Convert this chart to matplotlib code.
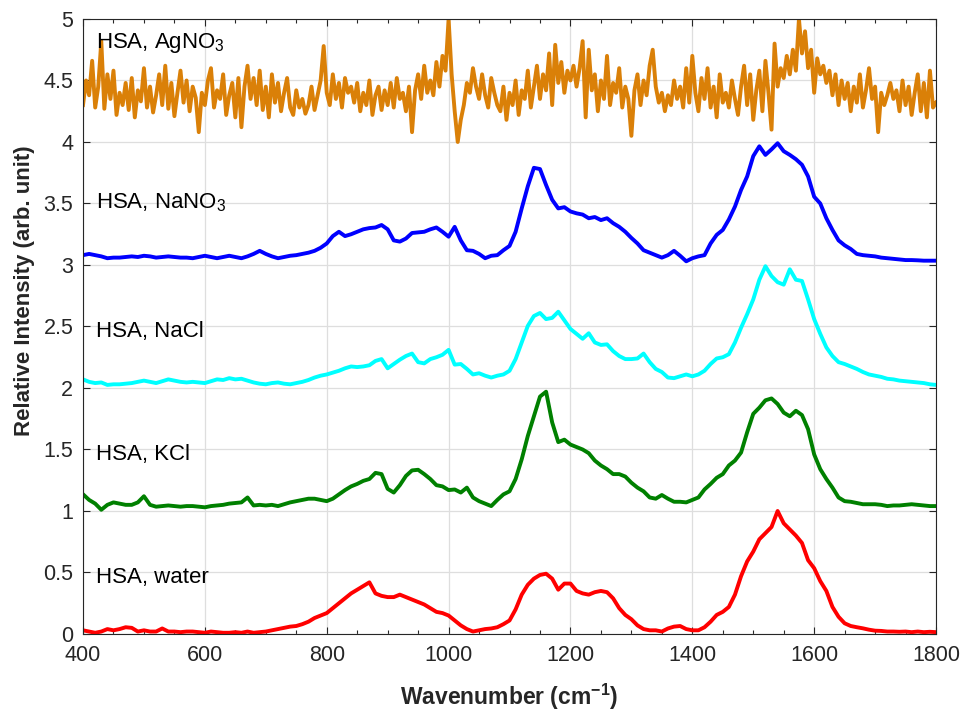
import numpy as np
import matplotlib
matplotlib.use("Agg")
import matplotlib.pyplot as plt
from matplotlib.ticker import MultipleLocator

plt.rcParams['font.family'] = ['Liberation Sans', 'DejaVu Sans']
plt.rcParams['mathtext.fontset'] = 'custom'
plt.rcParams['mathtext.rm'] = 'Liberation Sans'
plt.rcParams['mathtext.bf'] = 'Liberation Sans:bold'

# wavenumber grids
wn = np.arange(400, 1801, 10)
wn_ag = np.arange(400, 1801, 5)

water = [
    0.03, 0.02, 0.01, 0.02, 0.04, 0.03, 0.04, 0.055, 0.05, 0.02,
    0.03, 0.02, 0.02, 0.045, 0.02, 0.02, 0.015, 0.02, 0.02, 0.015,
    0.01, 0.02, 0.015, 0.01, 0.01, 0.015, 0.01, 0.02, 0.01, 0.015,
    0.02, 0.03, 0.04, 0.05, 0.06, 0.065, 0.08, 0.10, 0.13, 0.15,
    0.17, 0.21, 0.25, 0.29, 0.33, 0.36, 0.39, 0.42, 0.33, 0.31,
    0.30, 0.30, 0.32, 0.30, 0.28, 0.26, 0.24, 0.21, 0.18, 0.17,
    0.15, 0.11, 0.07, 0.04, 0.02, 0.03, 0.04, 0.045, 0.055, 0.08,
    0.11, 0.20, 0.32, 0.40, 0.45, 0.48, 0.49, 0.45, 0.36, 0.41,
    0.41, 0.35, 0.33, 0.32, 0.34, 0.35, 0.34, 0.29, 0.21, 0.155,
    0.12, 0.07, 0.04, 0.03, 0.03, 0.02, 0.045, 0.06, 0.065, 0.04,
    0.03, 0.03, 0.055, 0.10, 0.155, 0.18, 0.22, 0.32, 0.47, 0.59,
    0.67, 0.77, 0.82, 0.87, 1.00, 0.90, 0.85, 0.80, 0.74, 0.60,
    0.535, 0.43, 0.35, 0.22, 0.14, 0.087, 0.065, 0.055, 0.046, 0.035,
    0.027, 0.025, 0.02, 0.02, 0.018, 0.02, 0.015, 0.02, 0.015, 0.018,
    0.015]

kcl = [
    1.136, 1.09, 1.06, 1.01, 1.05, 1.07, 1.06, 1.05, 1.05, 1.07,
    1.12, 1.05, 1.035, 1.04, 1.045, 1.04, 1.035, 1.04, 1.04, 1.035,
    1.03, 1.04, 1.045, 1.05, 1.06, 1.065, 1.07, 1.11, 1.045, 1.05,
    1.045, 1.05, 1.04, 1.055, 1.07, 1.08, 1.09, 1.10, 1.10, 1.09,
    1.08, 1.10, 1.135, 1.17, 1.20, 1.22, 1.245, 1.26, 1.31, 1.30,
    1.18, 1.15, 1.21, 1.285, 1.33, 1.335, 1.30, 1.26, 1.21, 1.20,
    1.17, 1.175, 1.15, 1.19, 1.11, 1.08, 1.06, 1.04, 1.09, 1.135,
    1.16, 1.26, 1.42, 1.61, 1.77, 1.93, 1.97, 1.72, 1.56, 1.58,
    1.54, 1.52, 1.50, 1.47, 1.41, 1.37, 1.34, 1.30, 1.30, 1.28,
    1.23, 1.19, 1.16, 1.11, 1.10, 1.13, 1.10, 1.075, 1.075, 1.07,
    1.09, 1.11, 1.175, 1.22, 1.27, 1.30, 1.37, 1.41, 1.475, 1.64,
    1.79, 1.84, 1.90, 1.915, 1.87, 1.80, 1.77, 1.815, 1.78, 1.665,
    1.46, 1.34, 1.26, 1.19, 1.11, 1.08, 1.075, 1.065, 1.055, 1.055,
    1.055, 1.05, 1.04, 1.045, 1.045, 1.05, 1.055, 1.05, 1.045, 1.04,
    1.04]

nacl = [
    2.07, 2.05, 2.04, 2.045, 2.025, 2.03, 2.03, 2.035, 2.04, 2.05,
    2.06, 2.05, 2.04, 2.055, 2.07, 2.06, 2.05, 2.045, 2.05, 2.045,
    2.04, 2.055, 2.07, 2.065, 2.08, 2.07, 2.075, 2.06, 2.045, 2.035,
    2.03, 2.04, 2.045, 2.035, 2.03, 2.04, 2.05, 2.065, 2.085, 2.10,
    2.11, 2.125, 2.14, 2.16, 2.175, 2.17, 2.175, 2.185, 2.22, 2.235,
    2.16, 2.195, 2.23, 2.26, 2.28, 2.21, 2.20, 2.235, 2.25, 2.27,
    2.31, 2.19, 2.195, 2.155, 2.11, 2.12, 2.10, 2.085, 2.10, 2.11,
    2.14, 2.235, 2.37, 2.505, 2.585, 2.61, 2.56, 2.57, 2.62, 2.55,
    2.48, 2.44, 2.40, 2.445, 2.37, 2.35, 2.355, 2.30, 2.26, 2.235,
    2.235, 2.24, 2.28, 2.21, 2.155, 2.13, 2.085, 2.08, 2.095, 2.11,
    2.095, 2.11, 2.14, 2.195, 2.24, 2.25, 2.275, 2.37, 2.49, 2.60,
    2.72, 2.88, 2.99, 2.91, 2.86, 2.84, 2.965, 2.88, 2.87, 2.72,
    2.56, 2.44, 2.33, 2.26, 2.21, 2.195, 2.175, 2.155, 2.13, 2.11,
    2.10, 2.09, 2.075, 2.07, 2.06, 2.055, 2.05, 2.045, 2.04, 2.03,
    2.025]

nano3 = [
    3.08, 3.09, 3.08, 3.07, 3.055, 3.06, 3.06, 3.065, 3.07, 3.065,
    3.075, 3.07, 3.06, 3.065, 3.07, 3.065, 3.06, 3.06, 3.055, 3.065,
    3.075, 3.065, 3.055, 3.065, 3.075, 3.065, 3.055, 3.07, 3.09, 3.115,
    3.09, 3.07, 3.055, 3.065, 3.075, 3.08, 3.09, 3.10, 3.115, 3.14,
    3.175, 3.235, 3.27, 3.235, 3.25, 3.27, 3.29, 3.30, 3.305, 3.325,
    3.29, 3.20, 3.19, 3.215, 3.26, 3.265, 3.27, 3.29, 3.305, 3.27,
    3.23, 3.31, 3.20, 3.12, 3.115, 3.09, 3.055, 3.075, 3.08, 3.12,
    3.155, 3.27, 3.46, 3.64, 3.79, 3.78, 3.65, 3.53, 3.46, 3.47,
    3.435, 3.42, 3.41, 3.38, 3.39, 3.365, 3.38, 3.34, 3.31, 3.27,
    3.22, 3.175, 3.12, 3.10, 3.08, 3.06, 3.08, 3.115, 3.075, 3.03,
    3.055, 3.07, 3.08, 3.175, 3.245, 3.285, 3.37, 3.475, 3.61, 3.72,
    3.885, 3.965, 3.895, 3.94, 3.99, 3.925, 3.895, 3.86, 3.815, 3.72,
    3.555, 3.50, 3.38, 3.285, 3.20, 3.16, 3.13, 3.09, 3.08, 3.075,
    3.07, 3.06, 3.055, 3.05, 3.045, 3.04, 3.04, 3.038, 3.035, 3.035,
    3.035]

agno3 = [
    4.30, 4.50, 4.38, 4.66, 4.28, 4.45, 4.82, 4.27, 4.55, 4.35, 4.58, 4.22, 4.40, 4.30, 4.48, 4.26, 4.52, 4.20, 4.42, 4.33,
    4.60, 4.28, 4.45, 4.24, 4.38, 4.55, 4.30, 4.62, 4.27, 4.48, 4.21, 4.40, 4.58, 4.32, 4.50, 4.25, 4.45, 4.36, 4.08, 4.40,
    4.30, 4.50, 4.60, 4.28, 4.42, 4.35, 4.55, 4.22, 4.38, 4.48, 4.20, 4.52, 4.12, 4.45, 4.62, 4.35, 4.52, 4.30, 4.58, 4.26,
    4.45, 4.20, 4.55, 4.32, 4.48, 4.25, 4.40, 4.52, 4.28, 4.22, 4.42, 4.28, 4.35, 4.23, 4.30, 4.45, 4.26, 4.38, 4.50, 4.78,
    4.40, 4.30, 4.55, 4.35, 4.48, 4.28, 4.52, 4.40, 4.45, 4.32, 4.48, 4.25, 4.40, 4.30, 4.50, 4.22, 4.38, 4.45, 4.26, 4.42,
    4.30, 4.48, 4.28, 4.52, 4.35, 4.40, 4.25, 4.45, 4.08, 4.42, 4.55, 4.35, 4.62, 4.40, 4.50, 4.38, 4.65, 4.45, 4.70, 4.58,
    5.00, 4.55, 4.25, 4.00, 4.18, 4.30, 4.48, 4.40, 4.60, 4.45, 4.35, 4.55, 4.38, 4.28, 4.52, 4.40, 4.30, 4.25, 4.45, 4.18,
    4.40, 4.30, 4.50, 4.22, 4.42, 4.35, 4.58, 4.28, 4.45, 4.62, 4.35, 4.55, 4.42, 4.72, 4.30, 4.79, 4.48, 4.65, 4.40, 4.58,
    4.50, 4.62, 4.45, 4.60, 4.82, 4.20, 4.75, 4.42, 4.55, 4.25, 4.50, 4.35, 4.70, 4.30, 4.48, 4.40, 4.60, 4.28, 4.45, 4.35,
    4.05, 4.42, 4.55, 4.30, 4.50, 4.38, 4.62, 4.75, 4.45, 4.32, 4.40, 4.25, 4.38, 4.30, 4.50, 4.35, 4.45, 4.28, 4.60, 4.32,
    4.70, 4.40, 4.25, 4.52, 4.35, 4.60, 4.28, 4.45, 4.20, 4.55, 4.32, 4.40, 4.28, 4.50, 4.35, 4.22, 4.45, 4.62, 4.30, 4.55,
    4.18, 4.42, 4.58, 4.25, 4.66, 4.40, 4.10, 4.80, 4.45, 4.60, 4.52, 4.70, 4.55, 4.75, 4.58, 5.00, 4.72, 4.90, 4.60, 4.75,
    4.40, 4.68, 4.55, 4.62, 4.48, 4.58, 4.38, 4.55, 4.30, 4.50, 4.35, 4.48, 4.25, 4.45, 4.32, 4.55, 4.28, 4.42, 4.60, 4.35,
    4.45, 4.08, 4.40, 4.30, 4.38, 4.48, 4.35, 4.42, 4.25, 4.50, 4.30, 4.45, 4.22, 4.40, 4.55, 4.25, 4.48, 4.20, 4.58, 4.28,
    4.32]

labels = ["HSA, water", "HSA, KCl", "HSA, NaCl", "HSA, NaNO$_3$", "HSA, AgNO$_3$"]
label_y = [0.415, 1.415, 2.415, 3.463, 4.765]
colors = ["#FF0000", "#008000", "#00FFFF", "#0000FF", "#DA8008"]

fig = plt.figure(figsize=(9.63, 7.11), dpi=100)
ax = fig.add_axes([0.0862, 0.1083, 0.8858, 0.865])

series = [(wn, water), (wn, kcl), (wn, nacl), (wn, nano3), (wn_ag, agno3)]
for (x, y), c in zip(series, colors):
    ax.plot(x, y, color=c, lw=2.8, solid_joinstyle='round')

for lab, ly in zip(labels, label_y):
    ax.text(421, ly, lab, fontsize=16, va='baseline', ha='left', color='black')

ax.set_xlim(400, 1800)
ax.set_ylim(0, 5)
ax.xaxis.set_major_locator(MultipleLocator(200))
ax.xaxis.set_minor_locator(MultipleLocator(50))
ax.set_yticks(np.arange(0, 5.01, 0.5))
ax.set_yticklabels(["0", "0.5", "1", "1.5", "2", "2.5", "3", "3.5", "4", "4.5", "5"])
ax.grid(True, which='major', color='#DEDEDE', lw=0.9)
ax.set_axisbelow(True)
ax.tick_params(which='both', direction='in', top=True, right=True, labelsize=15.5,
               colors='#262626', width=0.8)
ax.tick_params(axis='x', which='major', pad=8)
ax.tick_params(axis='y', which='major', pad=7)
ax.tick_params(which='major', length=5)
ax.tick_params(which='minor', length=3)
for s in ax.spines.values():
    s.set_color('#262626')
    s.set_linewidth(0.8)

ax.set_xlabel("Wavenumber (cm$^{\\mathbf{-1}}$)", fontsize=16.5, fontweight='bold', color='#262626')
ax.set_ylabel("Relative Intensity (arb. unit)", fontsize=16, fontweight='bold', color='#262626')
ax.xaxis.set_label_coords(0.5, -0.078)
ax.yaxis.set_label_coords(-0.0563, 0.559)

fig.savefig("out.png", dpi=100)
